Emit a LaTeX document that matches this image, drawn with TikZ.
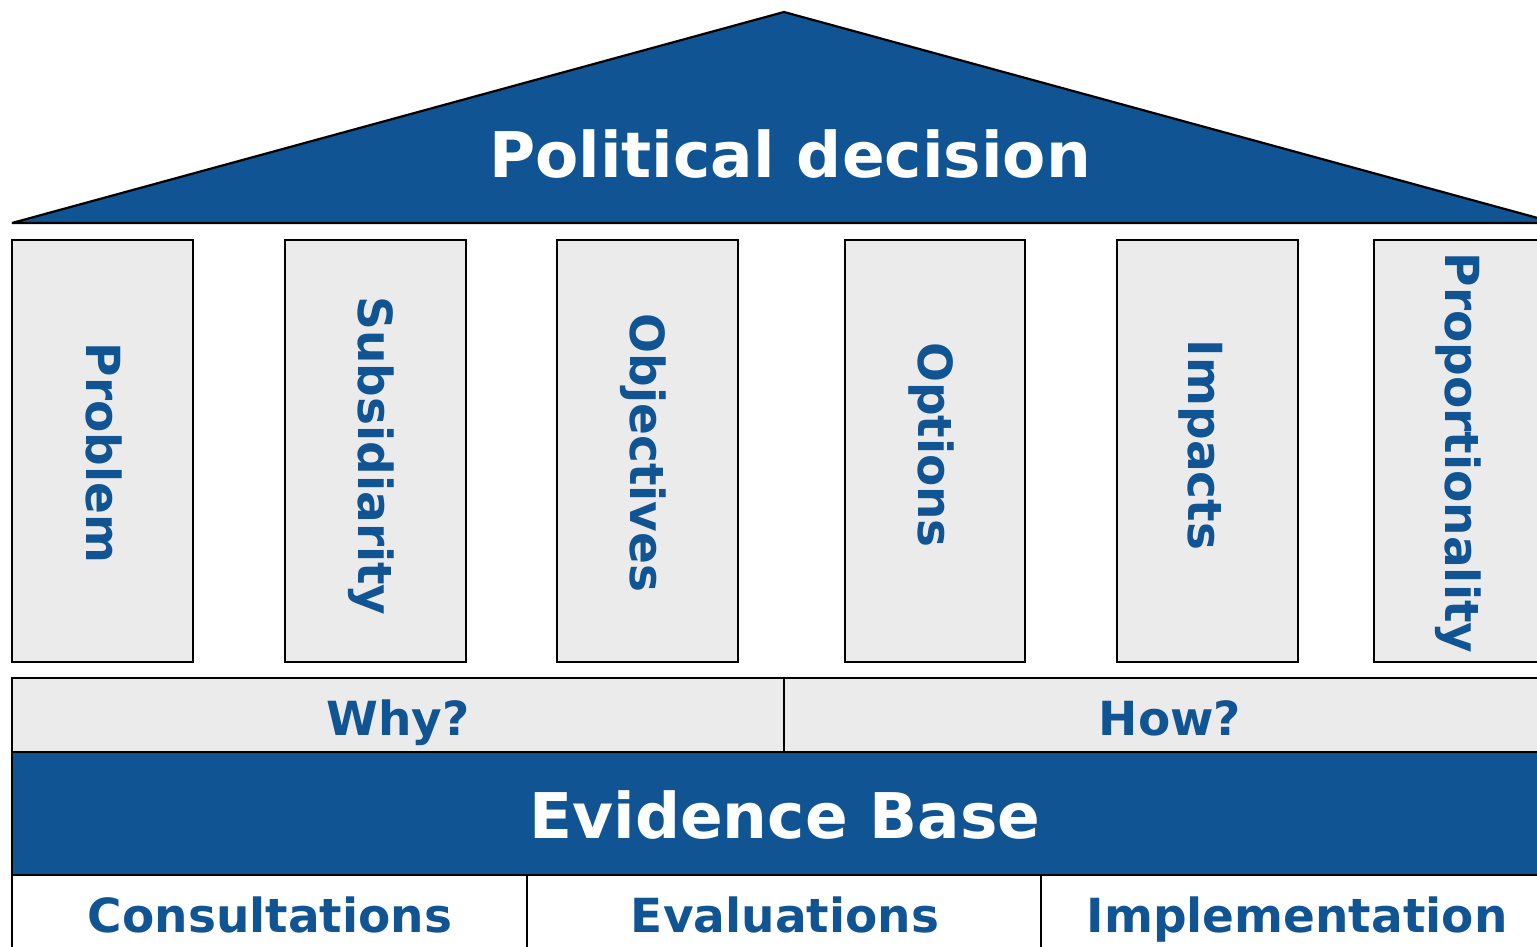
\documentclass[tikz,border=0pt]{standalone}
\usepackage{fontspec}
\setmainfont{DejaVu Sans}
\definecolor{ecblue}{RGB}{17,84,147}
\begin{document}
\begin{tikzpicture}[x=1pt,y=-1pt,
  frame/.style={draw=black,line width=2.2pt},
  pillar/.style={frame,fill=black!8},
  bigtxt/.style={font=\fontsize{63}{70}\selectfont\bfseries,text=white,inner sep=0pt,anchor=base},
  smalltxt/.style={font=\fontsize{47}{52}\selectfont\bfseries,text=ecblue,inner sep=0pt,anchor=base},
  vtxt/.style={smalltxt,rotate=-90}]
\useasboundingbox (0,0) rectangle (1537,947);
\clip (0,0) rectangle (1537,947);
% roof
\draw[frame,fill=ecblue,line join=bevel] (12,223) -- (784,12) -- (1556,223) -- cycle;
\node[bigtxt] (pd) at (790,178) {Political decision};
% pillars
\draw[pillar] (12,240) rectangle (193,662);
\draw[pillar] (285,240) rectangle (466,662);
\draw[pillar] (557,240) rectangle (738,662);
\draw[pillar] (845,240) rectangle (1025,662);
\draw[pillar] (1117,240) rectangle (1298,662);
\draw[pillar] (1374,240) rectangle (1555,662);
\node[vtxt] (p1) at (86,453) {Problem};
\node[vtxt] (p2) at (358,456) {Subsidiarity};
\node[vtxt] (p3) at (630,453) {Objectives};
\node[vtxt] (p4) at (918,445) {Options};
\node[vtxt] (p5) at (1188,445) {Impacts};
\node[vtxt] (p6) at (1445,453) {Proportionality};
% why / how
\draw[pillar] (12,678) rectangle (784,752);
\draw[pillar] (784,678) rectangle (1560,752);
\node[smalltxt] (why) at (398,735) {Why?};
\node[smalltxt] (how) at (1170,735) {How?};
% evidence base
\draw[frame,fill=ecblue] (12,752) rectangle (1560,875);
\node[bigtxt] (eb) at (785,838) {Evidence Base};
% bottom row
\draw[frame] (12,960) -- (12,875) -- (1560,875);
\draw[frame] (527,875) -- (527,960);
\draw[frame] (1041,875) -- (1041,960);
\node[smalltxt] (c1) at (270,932) {Consultations};
\node[smalltxt] (c2) at (785,932) {Evaluations};
\node[smalltxt] (c3) at (1297,932) {Implementation};
\end{tikzpicture}
\end{document}
